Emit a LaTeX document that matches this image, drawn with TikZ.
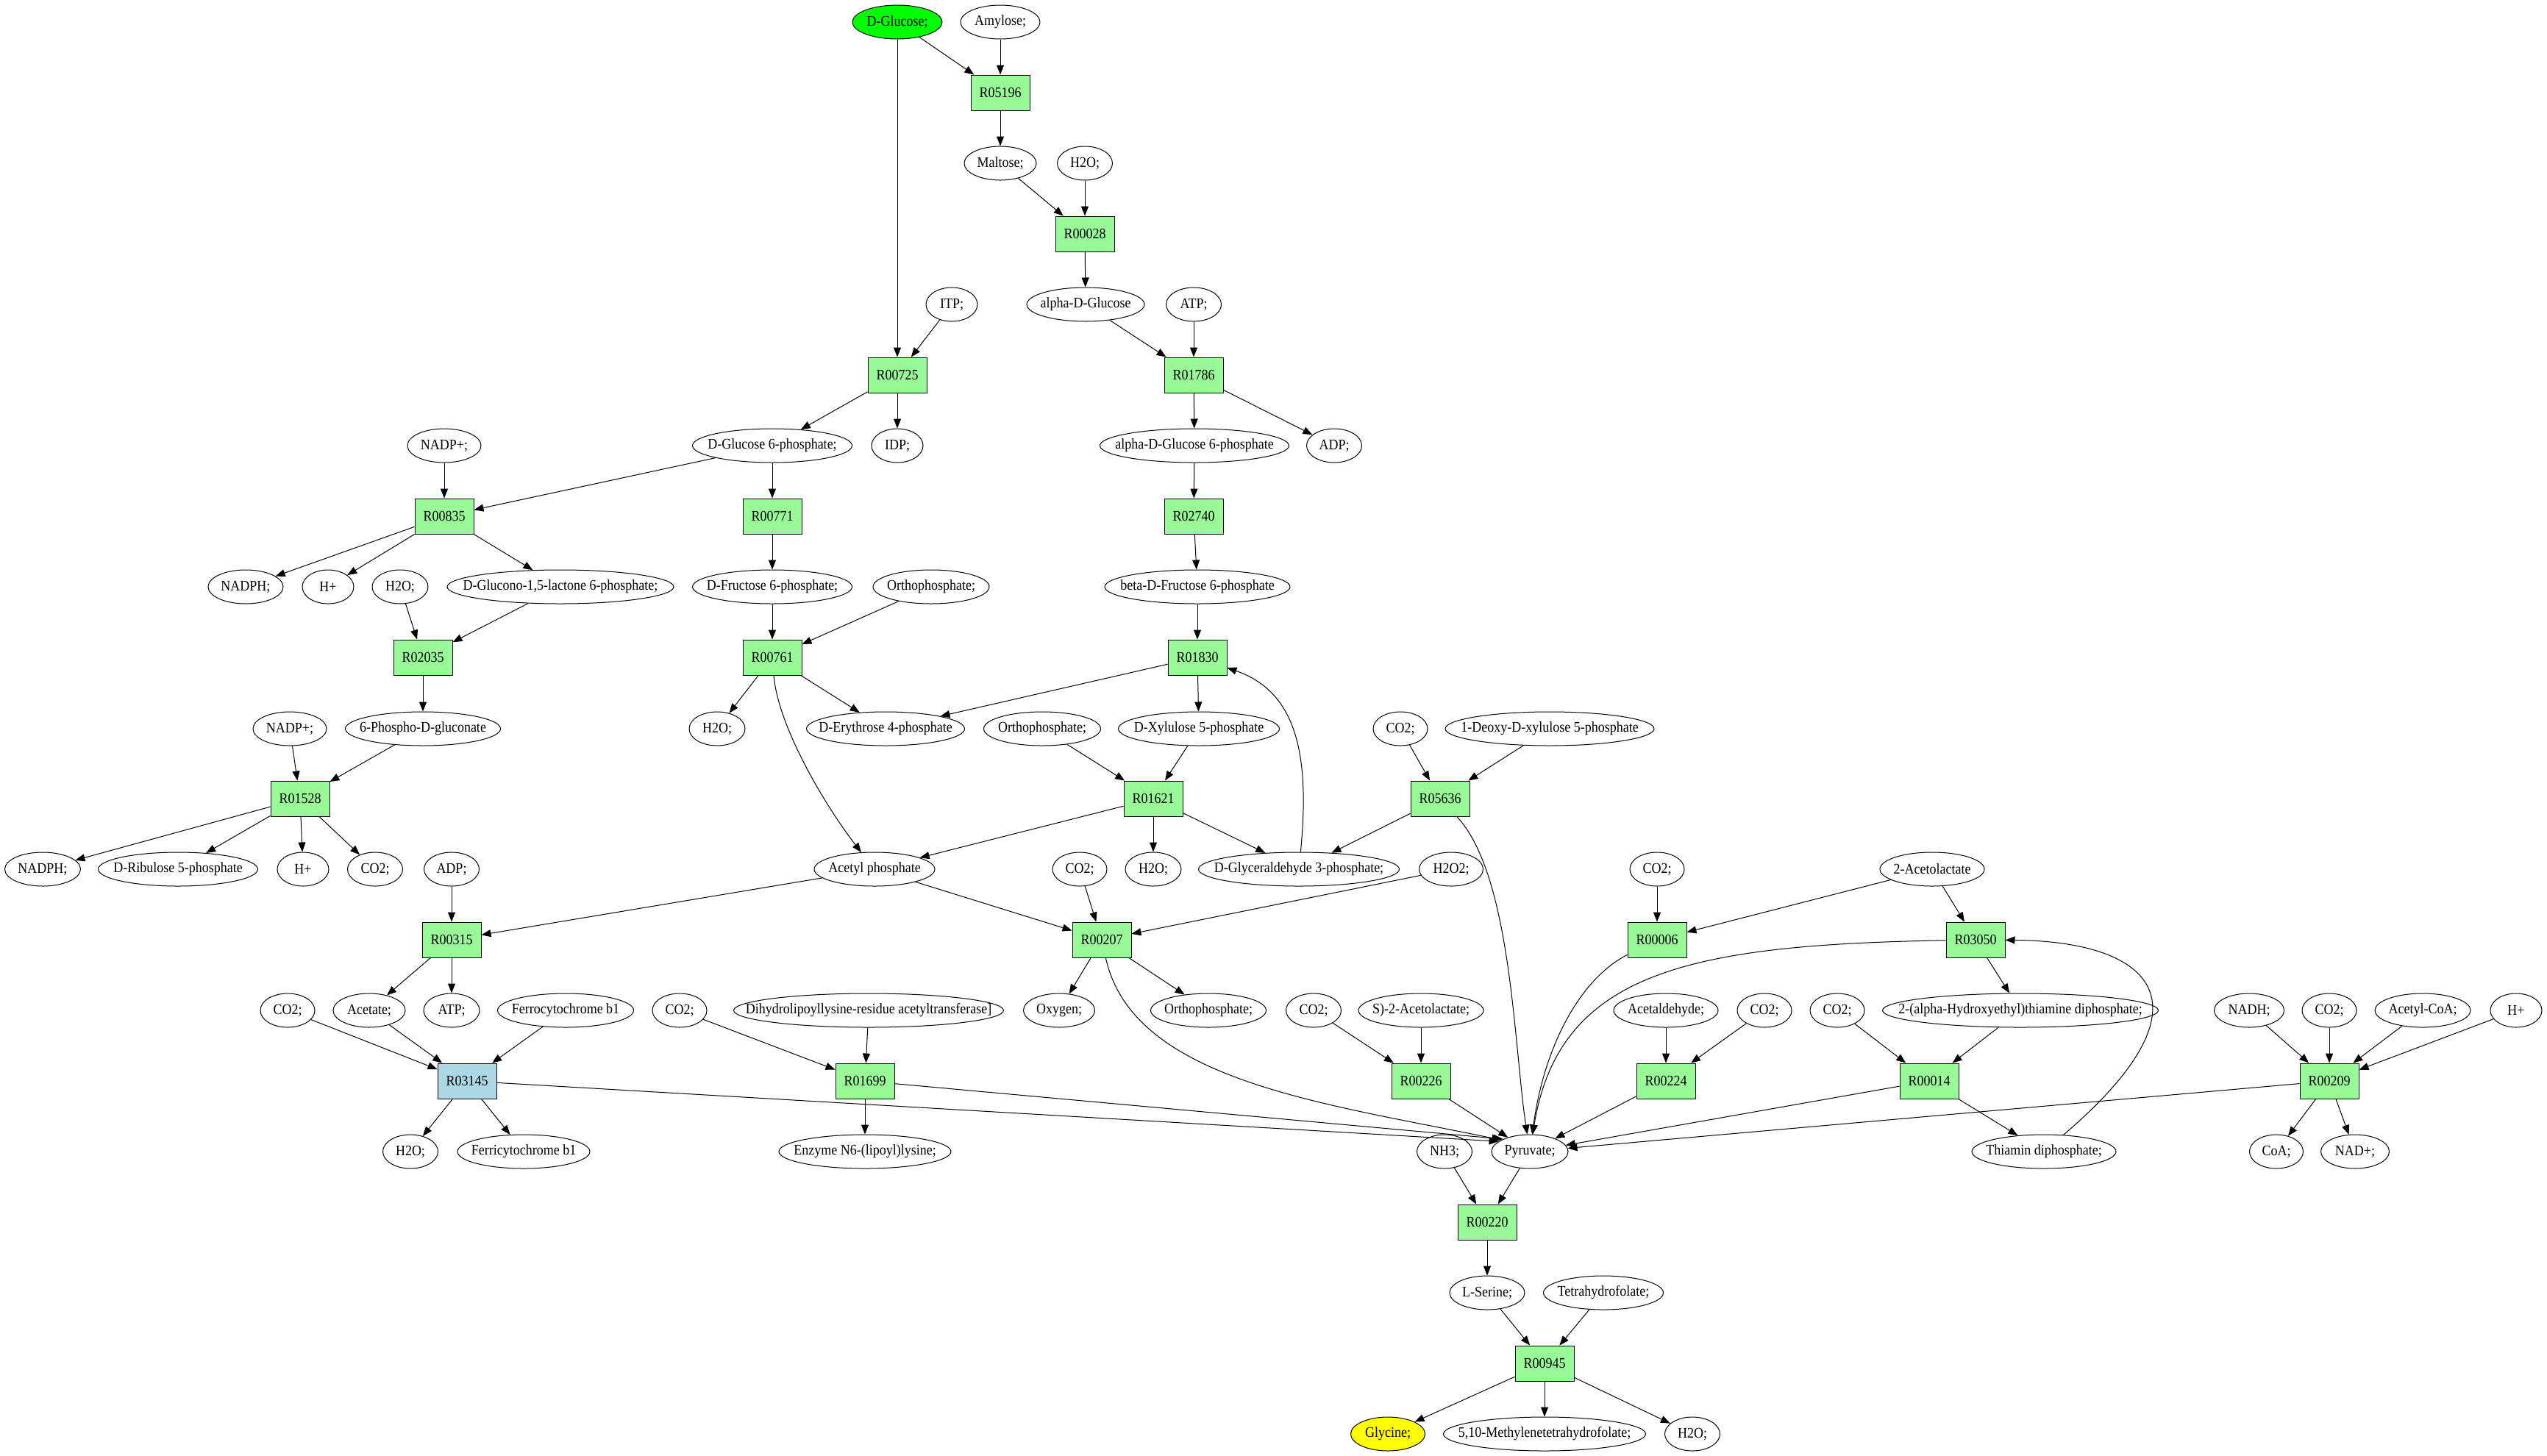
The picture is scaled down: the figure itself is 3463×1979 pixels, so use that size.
\documentclass[tikz,border=0pt]{standalone}
\usepackage{fontspec}
\setmainfont{Liberation Serif}[FakeStretch=0.9]
\usetikzlibrary{shapes.geometric,arrows.meta}
\definecolor{palegreen}{HTML}{98FB98}
\definecolor{lblue}{HTML}{ADD8E6}
\definecolor{gluc}{HTML}{00FF00}
\definecolor{yel}{HTML}{FFFF00}
\begin{document}
\begin{tikzpicture}[x=1pt,y=-1pt,
 every node/.style={font=\fontsize{20}{24}\selectfont},
 met/.style={ellipse,draw,line width=1pt,inner sep=0pt,minimum height=46pt,minimum width=#1,
   execute at begin node={\hbox to 0pt\bgroup\hss}, execute at end node={\hss\egroup}},
 rxn/.style={rectangle,draw,line width=0.9pt,fill=palegreen,minimum width=80pt,minimum height=48pt,inner sep=0pt},
 arr/.style={line width=1pt,-{Triangle[length=13pt,width=10pt]}}]
\useasboundingbox (0,0) rectangle (3463,1979);
% row 30
\node[met=122,fill=gluc] (glc) at (1220,30) {D-Glucose;};
\node[met=108] (amy) at (1360,30) {Amylose;};
% row 126
\node[rxn] (r05196) at (1360,126) {R05196};
% row 222
\node[met=98] (malt) at (1360,222) {Maltose;};
\node[met=75] (h2oA) at (1475,222) {H2O;};
% row 318
\node[rxn] (r00028) at (1475,318) {R00028};
% row 414
\node[met=70] (itp) at (1294,414) {ITP;};
\node[met=160] (adglc) at (1476,414) {alpha-D-Glucose};
\node[met=75] (atpA) at (1623,414) {ATP;};
% row 510
\node[rxn] (r00725) at (1220,510) {R00725};
\node[rxn] (r01786) at (1623,510) {R01786};
% row 606
\node[met=100] (nadpA) at (604,606) {NADP+;};
\node[met=217] (g6p) at (1050,606) {D-Glucose 6-phosphate;};
\node[met=70] (idp) at (1220,606) {IDP;};
\node[met=257] (ag6p) at (1624,606) {alpha-D-Glucose 6-phosphate};
\node[met=75] (adpA) at (1814,606) {ADP;};
% row 702
\node[rxn] (r00835) at (604,702) {R00835};
\node[rxn] (r00771) at (1050,702) {R00771};
\node[rxn] (r02740) at (1623,702) {R02740};
% row 798
\node[met=102] (nadphA) at (334,798) {NADPH;};
\node[met=70] (hA) at (446,798) {H+};
\node[met=76] (h2oB) at (544,798) {H2O;};
\node[met=308] (glucono) at (762,798) {D-Glucono-1,5-lactone 6-phosphate;};
\node[met=217] (f6p) at (1050,798) {D-Fructose 6-phosphate;};
\node[met=158] (orthoA) at (1266,798) {Orthophosphate;};
\node[met=252] (bf6p) at (1628,798) {beta-D-Fructose 6-phosphate};
% row 894
\node[rxn] (r02035) at (575,894) {R02035};
\node[rxn] (r00761) at (1050,894) {R00761};
\node[rxn] (r01830) at (1628,894) {R01830};
% row 991
\node[met=100] (nadpB) at (394,991) {NADP+;};
\node[met=211] (pgluc) at (575,991) {6-Phospho-D-gluconate};
\node[met=76] (h2oC) at (975,991) {H2O;};
\node[met=215] (e4p) at (1204,991) {D-Erythrose 4-phosphate};
\node[met=159] (orthoB) at (1417,991) {Orthophosphate;};
\node[met=219] (x5p) at (1630,991) {D-Xylulose 5-phosphate};
\node[met=74] (co2A) at (1904,991) {CO2;};
\node[met=284] (deoxy) at (2107,991) {1-Deoxy-D-xylulose 5-phosphate};
% row 1086
\node[rxn] (r01528) at (408,1086) {R01528};
\node[rxn] (r01621) at (1568,1086) {R01621};
\node[rxn] (r05636) at (1958,1086) {R05636};
% row 1182
\node[met=103] (nadphB) at (58,1182) {NADPH;};
\node[met=217] (ru5p) at (242,1182) {D-Ribulose 5-phosphate};
\node[met=70] (hB) at (412,1182) {H+};
\node[met=75] (co2B) at (510,1182) {CO2;};
\node[met=75] (adpB) at (614,1182) {ADP;};
\node[met=164] (acp) at (1189,1182) {Acetyl phosphate};
\node[met=74] (co2C) at (1468,1182) {CO2;};
\node[met=76] (h2oD) at (1568,1182) {H2O;};
\node[met=273] (ga3p) at (1766,1182) {D-Glyceraldehyde 3-phosphate;};
\node[met=87] (h2o2) at (1973,1182) {H2O2;};
\node[met=74] (co2D) at (2253,1182) {CO2;};
\node[met=142] (acl) at (2627,1182) {2-Acetolactate};
% row 1278
\node[rxn] (r00315) at (614,1278) {R00315};
\node[rxn] (r00207) at (1498,1278) {R00207};
\node[rxn] (r00006) at (2253,1278) {R00006};
\node[rxn] (r03050) at (2686,1278) {R03050};
% row 1374
\node[met=74] (co2E) at (391,1374) {CO2;};
\node[met=98] (acet) at (502,1374) {Acetate;};
\node[met=76] (atpB) at (614,1374) {ATP;};
\node[met=185] (ferro) at (769,1374) {Ferrocytochrome b1};
\node[met=74] (co2F) at (924,1374) {CO2;};
\node[met=367] (dihydro) at (1181,1374) {Dihydrolipoyllysine-residue acetyltransferase]};
\node[met=97] (oxy) at (1440,1374) {Oxygen;};
\node[met=157] (orthoC) at (1643,1374) {Orthophosphate;};
\node[met=75] (co2G) at (1786,1374) {CO2;};
\node[met=170] (sacl) at (1932,1374) {S)-2-Acetolactate;};
\node[met=142] (acald) at (2265,1374) {Acetaldehyde;};
\node[met=74] (co2H) at (2399,1374) {CO2;};
\node[met=74] (co2I) at (2498,1374) {CO2;};
\node[met=375] (hethpp) at (2747,1374) {2-(alpha-Hydroxyethyl)thiamine diphosphate;};
\node[met=95] (nadh) at (3058,1374) {NADH;};
\node[met=74] (co2J) at (3167,1374) {CO2;};
\node[met=130] (accoa) at (3294,1374) {Acetyl-CoA;};
\node[met=70] (hC) at (3421,1374) {H+};
% row 1470
\node[rxn,fill=lblue] (r03145) at (635,1470) {R03145};
\node[rxn] (r01699) at (1176,1470) {R01699};
\node[rxn] (r00226) at (1932,1470) {R00226};
\node[rxn] (r00224) at (2265,1470) {R00224};
\node[rxn] (r00014) at (2623,1470) {R00014};
\node[rxn] (r00209) at (3167,1470) {R00209};
% row 1566
\node[met=75] (h2oE) at (558,1566) {H2O;};
\node[met=180] (ferri) at (712,1566) {Ferricytochrome b1};
\node[met=234] (enz) at (1176,1566) {Enzyme N6-(lipoyl)lysine;};
\node[met=75] (nh3) at (1964,1566) {NH3;};
\node[met=104] (pyr) at (2080,1566) {Pyruvate;};
\node[met=196] (tpp) at (2779,1566) {Thiamin diphosphate;};
\node[met=73] (coa) at (3095,1566) {CoA;};
\node[met=93] (nad) at (3202,1566) {NAD+;};
% rows 1662-1950
\node[rxn] (r00220) at (2022,1662) {R00220};
\node[met=102] (ser) at (2022,1758) {L-Serine;};
\node[met=163] (thf) at (2180,1758) {Tetrahydrofolate;};
\node[rxn] (r00945) at (2100,1854) {R00945};
\node[met=101,fill=yel] (gly) at (1887,1950) {Glycine;};
\node[met=275] (mthf) at (2100,1950) {5,10-Methylenetetrahydrofolate;};
\node[met=75] (h2oF) at (2301,1950) {H2O;};
% straight edges
\foreach \a/\b in {glc/r05196, amy/r05196, r05196/malt, malt/r00028, h2oA/r00028, r00028/adglc,
  glc/r00725, itp/r00725, adglc/r01786, atpA/r01786, r00725/g6p, r00725/idp, r01786/ag6p, r01786/adpA,
  nadpA/r00835, g6p/r00835, g6p/r00771, ag6p/r02740, r00835/nadphA, r00835/hA, r00835/glucono,
  r00771/f6p, r02740/bf6p, h2oB/r02035, glucono/r02035, f6p/r00761, orthoA/r00761, bf6p/r01830,
  r02035/pgluc, r00761/h2oC, r00761/e4p, r01830/e4p, r01830/x5p, nadpB/r01528, pgluc/r01528,
  orthoB/r01621, x5p/r01621, co2A/r05636, deoxy/r05636, r01528/nadphB, r01528/ru5p, r01528/hB,
  r01528/co2B, r01621/acp, r01621/h2oD, r01621/ga3p, r05636/ga3p, adpB/r00315, acp/r00315,
  acp/r00207, co2C/r00207, h2o2/r00207, co2D/r00006, acl/r00006, acl/r03050, r00315/acet,
  r00315/atpB, r00207/oxy, r00207/orthoC, r03050/hethpp, co2E/r03145, acet/r03145, ferro/r03145,
  co2F/r01699, dihydro/r01699, co2G/r00226, sacl/r00226, acald/r00224, co2H/r00224, co2I/r00014,
  hethpp/r00014, nadh/r00209, co2J/r00209, accoa/r00209, hC/r00209, r03145/h2oE, r03145/ferri,
  r01699/enz, r00226/pyr, r00224/pyr, r00014/pyr, r00014/tpp, r00209/coa, r00209/nad, r00209/pyr,
  nh3/r00220, pyr/r00220, r00220/ser, ser/r00945, thf/r00945, r00945/gly, r00945/mthf, r00945/h2oF}
  \draw[arr] (\a) -- (\b);
\draw[arr] (r03145) -- (pyr.162);
\draw[arr] (r01699) -- (pyr.155);
% curved edges
\draw[arr] (r00761) .. controls (1058,990) and (1125,1100) .. (acp);
\draw[arr] (ga3p) .. controls (1782,1020) and (1760,940) .. (r01830);
\draw[arr] (r05636) .. controls (2055,1190) and (2058,1420) .. (pyr);
\draw[arr] (r00207) .. controls (1540,1470) and (1800,1500) .. (pyr.158);
\draw[arr] (r00006) .. controls (2150,1330) and (2100,1420) .. (pyr);
\draw[arr] (r03050) .. controls (2300,1285) and (2120,1320) .. (pyr);
\draw[arr] (tpp) .. controls (3020,1360) and (2920,1280) .. (r03050);
\end{tikzpicture}
\end{document}
